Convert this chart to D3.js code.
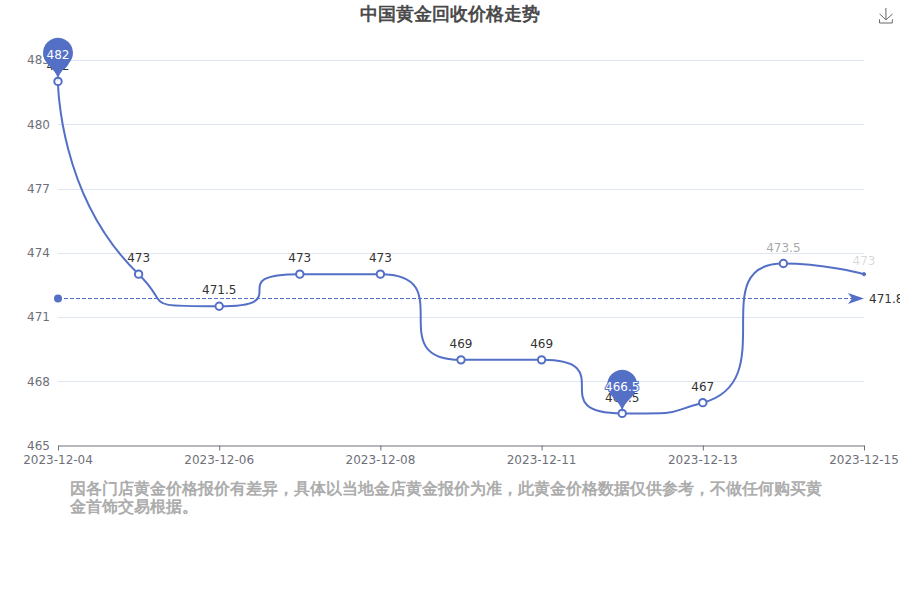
<!DOCTYPE html>
<html>
<head>
<meta charset="utf-8">
<script src="https://cdnjs.cloudflare.com/ajax/libs/d3/7.8.5/d3.min.js"></script>
<style>html,body{margin:0;padding:0;background:#fff;overflow:hidden}svg{display:block}</style>
</head>
<body>
<div id="chart"></div>
<script>
const titleText = "中国黄金回收价格走势";
const categories = ["2023-12-04","2023-12-05","2023-12-06","2023-12-07","2023-12-08","2023-12-09","2023-12-11","2023-12-12","2023-12-13","2023-12-14","2023-12-15"];
const prices = [482,473,471.5,473,473,469,469,466.5,467,473.5,473];
const yTickValues = [465,468,471,474,477,480,483];
const xTickValues = ["2023-12-04","2023-12-06","2023-12-08","2023-12-11","2023-12-13","2023-12-15"];
const averageValue = 471.86;
const extremes = [482, 466.5];
const noteLines = ["因各门店黄金价格报价有差异，具体以当地金店黄金报价为准，此黄金价格数据仅供参考，不做任何购买黄","金首饰交易根据。"];

const W = 900, H = 600;
const color = "#5470c6";
const font = "'DejaVu Sans'";
const svg = d3.select("#chart").append("svg").attr("width", W).attr("height", H).attr("viewBox", `0 0 ${W} ${H}`);

const x = d3.scalePoint().domain(categories).range([58, 864]);
const y = d3.scaleLinear().domain([465, 483]).range([445.5, 60]);

// grid
svg.append("g").selectAll("line").data(yTickValues.slice(1)).join("line")
  .attr("x1", 58).attr("x2", 864)
  .attr("y1", d => Math.round(y(d)) + .5).attr("y2", d => Math.round(y(d)) + .5)
  .attr("stroke", "#E0E6F1").attr("stroke-width", 1);

// y axis labels
const yAxis = svg.append("g").attr("transform", "translate(58,0)")
  .call(d3.axisLeft(y).tickValues(yTickValues).tickSize(0).tickPadding(8).tickFormat(d3.format("d")));
yAxis.select(".domain").remove();
yAxis.selectAll("text").attr("fill", "#6E7079").style("font", `12px ${font}`);

// x axis
const xAxis = svg.append("g").attr("transform", "translate(0,445.5)")
  .call(d3.axisBottom(x).tickValues(xTickValues).tickSize(5).tickSizeOuter(0).tickPadding(5));
xAxis.select(".domain").attr("stroke", "#6E7079");
xAxis.selectAll("line").attr("stroke", "#6E7079");
xAxis.selectAll("text").attr("fill", "#6E7079").attr("dx", "-0.5").style("font", `12px ${font}`);

// ECharts-style smooth curve (smooth = 1) as a d3 curve factory
function echartsCurve(context) {
  let pts;
  return {
    areaStart() {}, areaEnd() {},
    lineStart() { pts = []; },
    point(px, py) { pts.push([+px, +py]); },
    lineEnd() {
      const clamp = (v, a, b) => Math.max(Math.min(v, Math.max(a, b)), Math.min(a, b));
      let cp0 = pts[0];
      context.moveTo(pts[0][0], pts[0][1]);
      for (let i = 1; i < pts.length; i++) {
        const p = pts[i - 1], c = pts[i], n = pts[i + 1];
        let cp1 = c, next = c;
        if (n) {
          const vx0 = n[0] - p[0], vy0 = n[1] - p[1];
          const lp = Math.hypot(c[0] - p[0], c[1] - p[1]);
          const ln = Math.hypot(n[0] - c[0], n[1] - c[1]);
          const r = ln / (ln + lp);
          let nx = clamp(c[0] + vx0 * r, n[0], c[0]);
          let ny = clamp(c[1] + vy0 * r, n[1], c[1]);
          let vx = nx - c[0], vy = ny - c[1];
          let cx = clamp(c[0] - vx * lp / ln, p[0], c[0]);
          let cy = clamp(c[1] - vy * lp / ln, p[1], c[1]);
          vx = c[0] - cx; vy = c[1] - cy;
          cp1 = [cx, cy];
          next = [c[0] + vx * ln / lp, c[1] + vy * ln / lp];
        }
        context.bezierCurveTo(cp0[0], cp0[1], cp1[0], cp1[1], c[0], c[1]);
        cp0 = next;
      }
    }
  };
}

const rows = categories.map((c, i) => ({ c, v: prices[i], i }));
const last = rows.length - 1;

// mark line (average)
const avgY = Math.floor(y(averageValue)) + .5;
svg.append("line").attr("x1", 58).attr("x2", 852).attr("y1", avgY).attr("y2", avgY)
  .attr("stroke", color).attr("stroke-width", 1).attr("stroke-dasharray", "4 2");
svg.append("circle").attr("cx", 58).attr("cy", avgY).attr("r", 4).attr("fill", color);
const ar = d3.path();
ar.moveTo(864, avgY); ar.lineTo(848, avgY - 5.5); ar.lineTo(852, avgY); ar.lineTo(848, avgY + 5.5); ar.closePath();
svg.append("path").attr("d", ar.toString()).attr("fill", color);
svg.append("text").attr("x", 869).attr("y", avgY).attr("dy", "0.35em")
  .attr("fill", "#333").style("font", `12px ${font}`).text(averageValue);

// line
svg.append("path").datum(rows)
  .attr("d", d3.line().x(d => x(d.c)).y(d => y(d.v)).curve(echartsCurve))
  .attr("fill", "none").attr("stroke", color).attr("stroke-width", 2);

// symbols
svg.append("g").selectAll("circle").data(rows).join("circle")
  .attr("cx", d => x(d.c)).attr("cy", d => y(d.v))
  .attr("r", d => d.i === last ? 1.6 : 3.7)
  .attr("fill", d => d.i === last ? color : "#fff")
  .attr("stroke", color).attr("stroke-width", d => d.i === last ? 1 : 2);

// data labels (the last two are still fading in, the very last still settling)
const fade = i => i === last ? 0.2 : i === last - 1 ? 0.45 : 1;
svg.append("g").selectAll("text").data(rows).join("text")
  .attr("x", d => x(d.c)).attr("y", d => y(d.v) - (d.i === last ? 13 : 16)).attr("dy", "0.35em")
  .attr("text-anchor", "middle").attr("fill", "#333").attr("fill-opacity", d => fade(d.i))
  .style("font", `12px ${font}`).text(d => d.v);

// mark points (pin)
function pinPath(px, py) {
  const w = 30, h = 50, r = w / 2, dy = r * r / (h - r), cy = py - h + r + dy;
  const angle = Math.asin(dy / r), dx = Math.cos(angle) * r;
  const tanX = Math.sin(angle), tanY = Math.cos(angle), c1 = r * .6, c2 = r * .7;
  const p = d3.path();
  p.moveTo(px - dx, cy + dy);
  p.arc(px, cy, r, Math.PI - angle, Math.PI * 2 + angle);
  p.bezierCurveTo(px + dx - tanX * c1, cy + dy + tanY * c1, px, py - c2, px, py);
  p.bezierCurveTo(px, py - c2, px - dx + tanX * c1, cy + dy + tanY * c1, px - dx, cy + dy);
  p.closePath();
  return p.toString();
}
const pins = rows.filter(d => extremes.includes(d.v));
const pinG = svg.append("g").selectAll("g").data(pins).join("g");
pinG.append("path").attr("d", d => pinPath(x(d.c), y(d.v))).attr("fill", color);
pinG.append("text").attr("x", d => x(d.c)).attr("y", d => y(d.v) - 26.5).attr("dy", "0.35em")
  .attr("text-anchor", "middle").attr("fill", "#fff")
  .attr("stroke", color).attr("stroke-width", 2).attr("paint-order", "stroke")
  .style("font", `12px ${font}`).text(d => d.v);

// title (regular CJK glyphs thickened, as the reference's synthetic bold)
svg.append("text").attr("x", 450).attr("y", 14).attr("dy", "0.35em").attr("text-anchor", "middle")
  .attr("fill", "#464646").attr("stroke", "#464646").attr("stroke-width", 0.7)
  .style("font", `normal 18px ${font}`).text(titleText);

// note
svg.append("g").selectAll("text").data(noteLines).join("text")
  .attr("x", 70).attr("y", (d, i) => 488 + i * 18).attr("dy", "0.35em")
  .attr("fill", "#aaa").attr("stroke", "#aaa").attr("stroke-width", 0.6)
  .style("font", `normal 16px ${font}`).text(d => d);

// download icon
const s = 15 / 58;
svg.append("path").attr("d", "M4.7,22.9L29.3,45.5L54.7,23.4M4.6,43.6L4.6,58L53.8,58L53.8,43.6M29.2,45.1L29.2,0")
  .attr("transform", `translate(${886 - 29.5 * s},8) scale(${s})`)
  .attr("fill", "none").attr("stroke", "#666").attr("stroke-width", 1 / s);
</script>
</body>
</html>
